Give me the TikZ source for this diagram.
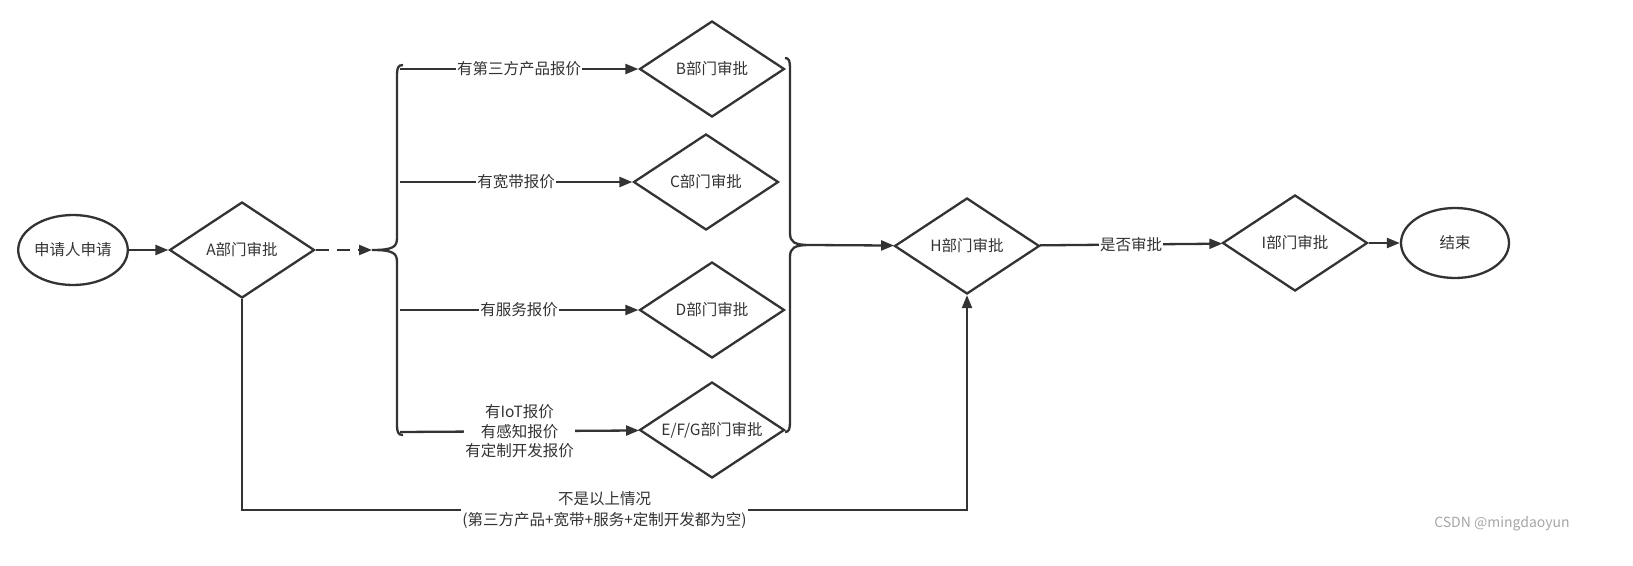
\documentclass[tikz,border=0pt]{standalone}
\usepackage{fontspec}
\setmainfont{Noto Sans CJK SC}
\usetikzlibrary{shapes.geometric,arrows.meta}
\definecolor{ln}{HTML}{333333}
\begin{document}
\begin{tikzpicture}[x=1pt,y=-1pt,
  every node/.style={font=\fontsize{15.5}{18}\selectfont, text=ln},
  dia/.style={draw=ln, line width=2.3pt, diamond, minimum width=145pt, minimum height=96pt, inner sep=0pt, aspect=1.5},
  ell/.style={draw=ln, line width=2.3pt, ellipse, minimum width=108pt, minimum height=70pt, inner sep=0pt},
  arr/.style={draw=ln, line width=2.3pt, -{Triangle[length=13pt,width=10pt]}},
  ln/.style={draw=ln, line width=2.3pt},
  lab/.style={fill=white, inner sep=1pt, align=center}]
\node[ell] (s) at (73,250) {申请人申请};
\node[dia] (a) at (242,250) {A部门审批};
\node[dia] (b) at (712,69) {B部门审批};
\node[dia] (c) at (706,182) {C部门审批};
\node[dia] (d) at (712,310) {D部门审批};
\node[dia] (e) at (712,430) {E/F/G部门审批};
\node[dia] (h) at (967,246) {H部门审批};
\node[dia] (i) at (1295,243) {I部门审批};
\node[ell] (end) at (1455,243) {结束};
\coordinate (lb) at (372,250);
\coordinate (rb) at (810,245);
\coordinate (bl) at (242,510);
\coordinate (br) at (967,510);
% left brace
\draw[ln] (403,65) .. controls (398,65) and (397,68) .. (397,75) -- (397,238) .. controls (397,247) and (393,250) .. (lb)
  .. controls (393,250) and (397,253) .. (397,262) -- (397,425) .. controls (397,432) and (398,435) .. (403,435);
% right brace
\draw[ln] (785,58) .. controls (789,58) and (790,61) .. (790,68) -- (790,233) .. controls (790,242) and (794,245) .. (rb)
  .. controls (794,245) and (790,248) .. (790,257) -- (790,422) .. controls (790,429) and (789,432) .. (785,432);
\coordinate (b0) at (400,69);
\coordinate (c0) at (400,182);
\coordinate (d0) at (400,310);
\coordinate (e0) at (400,432);
\draw[arr] (s) -- (a);
\draw[arr, dash pattern=on 13pt off 8pt] (a) -- (lb);
\draw[arr] (b0) -- node[lab]{有第三方产品报价} (b);
\draw[arr] (c0) -- node[lab]{有宽带报价} (c);
\draw[arr] (d0) -- node[lab]{有服务报价} (d);
\draw[arr] (e0) -- node[lab, font=\fontsize{15.5}{19.5}\selectfont]{有IoT报价\\有感知报价\\有定制开发报价} (e);
\draw[arr] (rb) -- (h);
\draw[arr] (h) -- node[lab]{是否审批} (i);
\draw[arr] (i) -- (end);
\draw[arr] (a.south) -- (bl) -- node[lab, font=\fontsize{15.5}{21}\selectfont]{不是以上情况\\(第三方产品+宽带+服务+定制开发都为空)} (br) -- (h.south);
\node[text=gray!70, font=\fontsize{14}{16}\selectfont] (wm) at (1502,524) {CSDN @mingdaoyun};
\pgfresetboundingbox
\useasboundingbox (0,0) rectangle (1633,565);
\end{tikzpicture}
\end{document}
